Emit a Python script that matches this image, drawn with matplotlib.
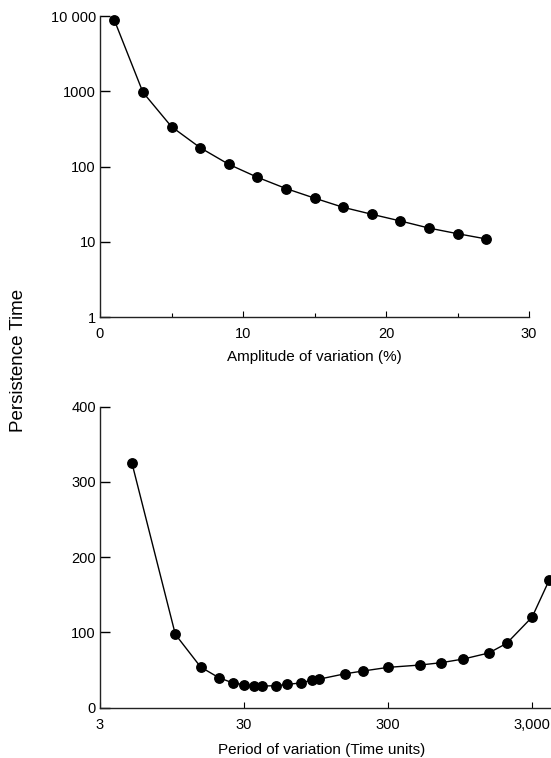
import numpy as np
import matplotlib

matplotlib.use("Agg")
import matplotlib.pyplot as plt
from matplotlib.ticker import FixedLocator, NullLocator

plt.rcParams["font.family"] = ["Liberation Sans", "DejaVu Sans"]

# ---------- data ----------
# top panel: persistence vs amplitude of variation
amplitude = [1, 3, 5, 7, 9, 11, 13, 15, 17, 19, 21, 23, 25, 27]
persist_amp = [8850, 970, 338, 178, 107, 72, 51, 38, 28.7, 23.2, 18.9, 15.2, 12.8, 10.9]

# bottom panel: persistence vs period of variation
period = [5, 10, 15, 20, 25, 30, 35, 40, 50, 60, 75, 89, 100, 150, 200, 300,
          500, 700, 1000, 1500, 2000, 3000, 3950]
persist_per = [325, 97.5, 54, 40, 33, 30.6, 28.8, 28.8, 29.2, 31, 33, 36.8, 38,
               45, 48.7, 53.6, 56.7, 59.8, 64.7, 72.7, 85.6, 120.5, 170]

amp_ticks = [0, 10, 20, 30]
amp_minor = [5, 15, 25]
log_ticks = [1, 10, 100, 1000, 10000]
log_labels = ["1", "10", "100", "1000", "10 000"]
per_ticks = [3, 30, 300, 3000]
per_labels = ["3", "30", "300", "3,000"]
lin_ticks = [0, 100, 200, 300, 400]

W, H = 551, 758
fig = plt.figure(figsize=(W / 100, H / 100), dpi=100)

ax1 = fig.add_axes([100 / W, 1 - 317 / H, 429 / W, 301 / H])
ax2 = fig.add_axes([100 / W, 1 - 707.7 / H, 451 / W, 301 / H])

line_kw = dict(color="black", linewidth=1.0, marker="o", markersize=6.8,
               markerfacecolor="black", markeredgecolor="black", clip_on=False)

# ---------- top panel ----------
ax1.plot(amplitude, persist_amp, **line_kw)
ax1.set_yscale("log")
ax1.set_xlim(0, 30)
ax1.set_ylim(1, 10000)
ax1.xaxis.set_major_locator(FixedLocator(amp_ticks))
ax1.xaxis.set_minor_locator(FixedLocator(amp_minor))
ax1.set_xticklabels([str(v) for v in amp_ticks])
ax1.yaxis.set_major_locator(FixedLocator(log_ticks))
ax1.yaxis.set_minor_locator(NullLocator())
ax1.set_yticklabels(log_labels)
ax1.tick_params(axis="x", which="minor", direction="in", length=3, width=0.8)

# ---------- bottom panel ----------
ax2.plot(period, persist_per, **line_kw)
ax2.set_xscale("log")
ax2.set_xlim(3, 4055)
ax2.set_ylim(0, 400)
ax2.xaxis.set_major_locator(FixedLocator(per_ticks))
ax2.xaxis.set_minor_locator(NullLocator())
ax2.set_xticklabels(per_labels)
ax2.yaxis.set_major_locator(FixedLocator(lin_ticks))
ax2.set_yticklabels([str(v) for v in lin_ticks])

for ax in (ax1, ax2):
    for side in ("top", "right"):
        ax.spines[side].set_visible(False)
    for side in ("left", "bottom"):
        ax.spines[side].set_linewidth(1.0)
        ax.spines[side].set_color("#222222")
    ax.tick_params(axis="y", which="major", direction="in", length=7, width=1.0,
                   pad=3, labelsize=10.5)
    ax.tick_params(axis="x", which="major", direction="in", length=4.5, width=0.8,
                   pad=7.5, labelsize=10.5)

fig.text(19 / W, 1 - 360 / H, "Persistence Time", rotation=90,
         ha="center", va="center", fontsize=13.5)
fig.text(314 / W, 1 - 357 / H, "Amplitude of variation (%)",
         ha="center", va="center", fontsize=11)
fig.text(322 / W, 1 - 750 / H, "Period of variation (Time units)",
         ha="center", va="center", fontsize=11)

fig.savefig("out.png", dpi=100)
